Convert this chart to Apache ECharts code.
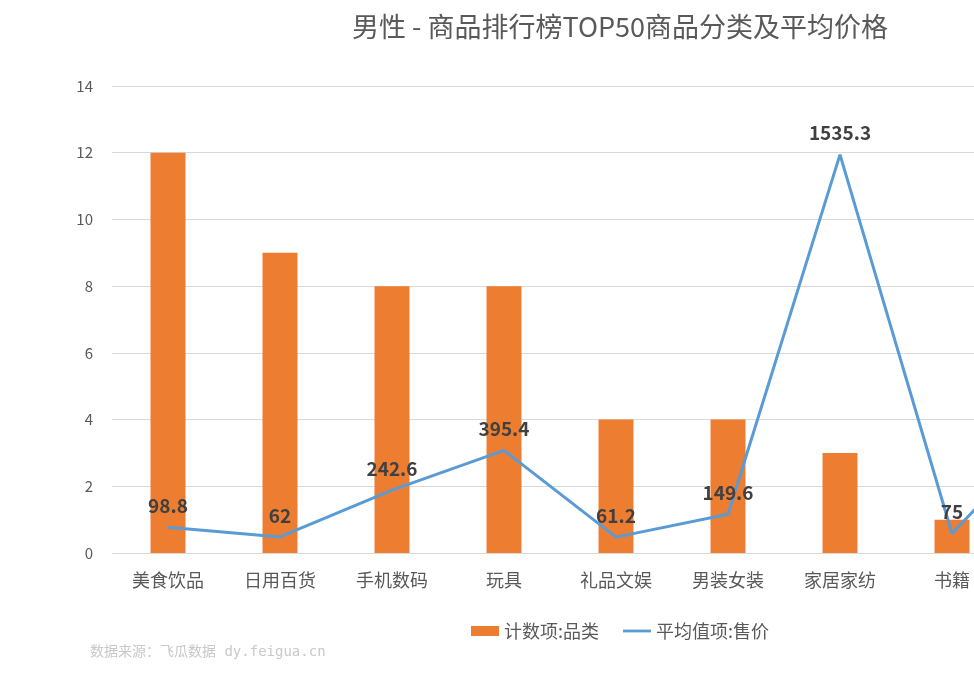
<!DOCTYPE html>
<html>
<head>
<meta charset="utf-8">
<script src="https://cdn.jsdelivr.net/npm/echarts@6/dist/echarts.min.js"></script>
<style>
html,body{margin:0;padding:0;overflow:hidden;background:#fff;width:974px;height:679px;}
#c{width:1240px;height:679px;}
</style>
</head>
<body>
<div id="c"></div>
<script>
// NOTE: the reference is cropped at the right edge. The 9th category ('鞋靴箱包', count 1, avg price ~530)
// is NOT readable in the picture: its count is inferred from the TOP50 total (49 visible + 1),
// its price is estimated from the slope of the line leaving the frame, and its name is a placeholder guess.
// It lies outside the visible 974px viewport.
const categories = ['美食饮品','日用百货','手机数码','玩具','礼品文娱','男装女装','家居家纺','书籍','鞋靴箱包'];
const countValues = [12, 9, 8, 8, 4, 4, 3, 1, 1];
const avgPrice = [98.8, 62, 242.6, 395.4, 61.2, 149.6, 1535.3, 75, 530];
const yTicks = [0, 2, 4, 6, 8, 10, 12, 14];

const font = '"Noto Sans CJK SC", "Noto Sans", sans-serif';
const chart = echarts.init(document.getElementById('c'));
chart.setOption({
  animation: false,
  title: {
    text: '男性 - 商品排行榜TOP50商品分类及平均价格',
    left: 'center', top: 8,
    textStyle: {fontSize: 27, fontWeight: 'normal', color: '#595959', fontFamily: font}
  },
  legend: {
    bottom: 34, left: 'center', itemGap: 24,
    itemWidth: 28, itemHeight: 10,
    textStyle: {fontSize: 18, color: '#595959', fontFamily: font},
    data: [
      {name: '计数项:品类', icon: 'rect'},
      {name: '平均值项:售价', icon: 'path://M0,0H30V3H0Z'}
    ]
  },
  graphic: [{
    type: 'text', left: 90, top: 645,
    style: {text: '数据来源：飞瓜数据 dy.feigua.cn', fill: '#c8c8c8', fontSize: 14, fontFamily: '"DejaVu Sans Mono", "Noto Sans CJK SC", monospace'}
  }],
  grid: {left: 112, right: 120, top: 86, bottom: 126},
  xAxis: {
    type: 'category', data: categories,
    axisLine: {show: false}, axisTick: {show: false},
    axisLabel: {fontSize: 18, color: '#595959', margin: 18, fontFamily: font}
  },
  yAxis: [{
    type: 'value', min: yTicks[0], max: yTicks[yTicks.length-1], interval: 2,
    axisLine: {show: false}, axisTick: {show: false},
    axisLabel: {fontSize: 15, color: '#595959', margin: 19, fontFamily: font},
    splitLine: {lineStyle: {color: '#d9d9d9', width: 1}}
  }, {
    type: 'value', min: 0, max: 1800, show: false, splitLine: {show: false}
  }],
  series: [{
    name: '计数项:品类', type: 'bar', data: countValues, barWidth: 35,
    itemStyle: {color: '#ED7D31'}
  }, {
    name: '平均值项:售价', type: 'line', yAxisIndex: 1, data: avgPrice,
    symbol: 'circle', symbolSize: 0, showSymbol: true,
    lineStyle: {color: '#5B9BD5', width: 3},
    itemStyle: {color: '#5B9BD5'},
    label: {show: true, position: 'top', distance: 12, fontSize: 19, fontWeight: 'bold', color: '#404040', fontFamily: font}
  }]
});
</script>
</body>
</html>
